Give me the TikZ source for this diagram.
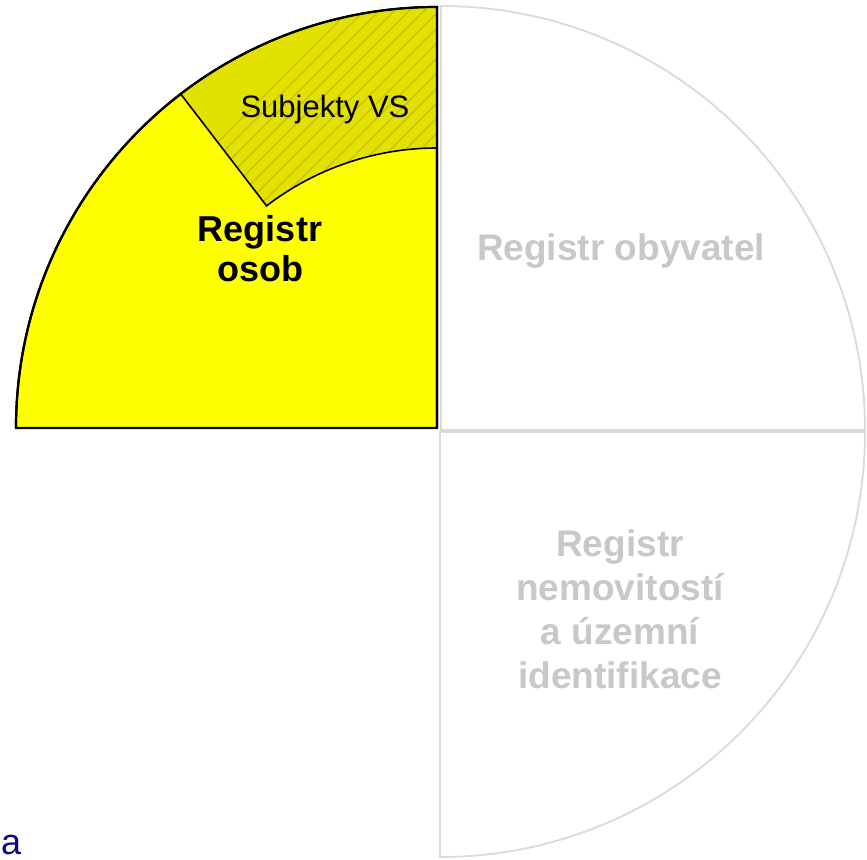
\documentclass[tikz,border=0pt]{standalone}
\usepackage{fontspec}
\setmainfont{Liberation Sans}
\definecolor{yel}{RGB}{255,255,0}
\definecolor{olivefill}{RGB}{226,226,0}
\definecolor{hatch}{RGB}{208,186,0}
\definecolor{lgray}{RGB}{218,218,218}
\definecolor{tgray}{RGB}{200,200,200}
\definecolor{navy}{RGB}{10,10,128}
\tikzset{
  grayquad/.style={draw=lgray, line width=1.8pt, fill=white},
  yelquad/.style={draw=black, line width=2.2pt, fill=yel, line join=miter},
  subsector/.style={draw=black, line width=1.6pt},
  graytext/.style={text=tgray, font=\fontsize{37}{44}\selectfont\bfseries, align=center, inner sep=0pt},
  blacktext/.style={text=black, font=\fontsize{36}{40}\selectfont\bfseries, align=center, inner sep=0pt},
}
\begin{document}
\begin{tikzpicture}[x=1pt,y=-1pt]
\useasboundingbox (0,0) rectangle (867,859);
\fill[white] (0,0) rectangle (867,859);
% gray quadrants
\draw[grayquad] (441,430) -- ++(270:424) arc[start angle=270,end angle=360,radius=424] -- cycle;
\draw[grayquad] (440,432) -- ++(0:425) arc[start angle=0,end angle=90,radius=425] -- cycle;
% yellow quadrant
\draw[yelquad] (437,428) -- ++(180:421) arc[start angle=180,end angle=270,radius=421] -- cycle;
% Subjekty VS sector
\begin{scope}
\clip (437,428) ++(232.5:421) arc[start angle=232.5,end angle=270,radius=421] -- ++(0,{421-280}) arc[start angle=270,end angle=232.5,radius=280] -- cycle;
\fill[olivefill] (150,0) rectangle (450,230);
\foreach \k in {0,...,35} {
  \draw[hatch, line width=1.3pt] ({100+\k*15},260) -- ++(280,-280);
}
\end{scope}
\draw[subsector] (437,428) ++(232.5:421) arc[start angle=232.5,end angle=270,radius=421] -- ++(0,{421-280}) arc[start angle=270,end angle=232.5,radius=280] -- cycle;
\draw[black, line width=2.2pt] (437,428) ++(180:421) arc[start angle=180,end angle=270,radius=421] -- (437,428);
% texts
\node[inner sep=0pt, anchor=base, font=\fontsize{31}{36}\selectfont] (sub) at (325,117) {Subjekty VS};
\node[blacktext] (ro) at (260,249) {Registr\\osob};
\node[graytext, anchor=base] (rob) at (621,260) {Registr obyvatel};
\node[graytext] (rn) at (620,609) {Registr\\nemovitostí\\a územní\\identifikace};
\node[text=navy, inner sep=0pt, anchor=base west, font=\fontsize{36}{40}\selectfont] (a) at (1,854) {a};
\end{tikzpicture}
\end{document}
